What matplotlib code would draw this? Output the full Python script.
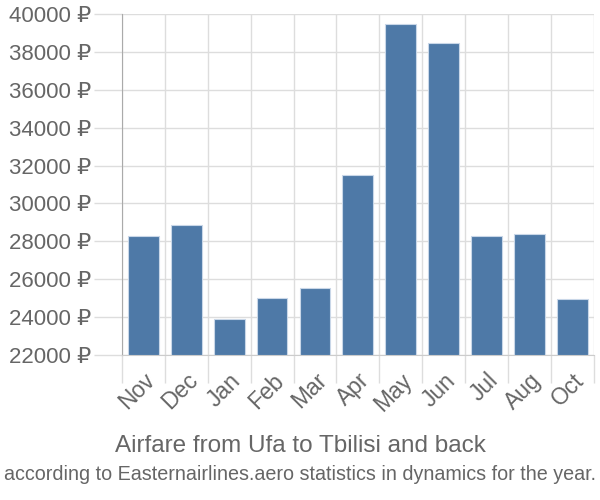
import numpy as np
import matplotlib
matplotlib.use("Agg")
import matplotlib.pyplot as plt
from matplotlib.ticker import FixedLocator

plt.rcParams['font.family'] = ['Liberation Sans', 'DejaVu Sans']

# data
months = ["Nov", "Dec", "Jan", "Feb", "Mar", "Apr", "May", "Jun", "Jul", "Aug", "Oct"]
prices = [28280, 28880, 23880, 25020, 25520, 31480, 39450, 38480, 28280, 28400, 24940]
y_ticks = [22000, 24000, 26000, 28000, 30000, 32000, 34000, 36000, 38000, 40000]

text_col = "#666666"
grid_col = "#dddddd"

fig = plt.figure(figsize=(6, 5), dpi=100)
ax = fig.add_axes([0.203, 0.29, 0.787, 0.682])

x = np.arange(len(months))
ax.bar(x, [p - y_ticks[0] for p in prices], bottom=y_ticks[0], width=0.72,
       color="#4e79a7", edgecolor="#c9d7e8", linewidth=0.8, zorder=3)

ax.set_xlim(-0.5, len(months) - 0.5)
ax.set_ylim(y_ticks[0], y_ticks[-1])

ax.set_yticks(y_ticks)
ax.set_yticklabels([f"{v} ₽" for v in y_ticks], fontsize=16, color=text_col)
ax.tick_params(axis="y", length=20, color=grid_col, width=1, pad=2)

ax.set_xticks(x)
ax.set_xticklabels(months, rotation=45, ha="right", rotation_mode="anchor",
                   fontsize=16.5, color=text_col)
ax.tick_params(axis="x", which="major", length=0, pad=10)
ax.xaxis.set_minor_locator(FixedLocator(np.arange(-0.5, len(months), 1)))
ax.tick_params(axis="x", which="minor", length=20, color=grid_col, width=1)

ax.grid(True, axis="y", color=grid_col, linewidth=1, zorder=0)
ax.grid(True, axis="x", which="minor", color=grid_col, linewidth=1, zorder=0)

for side in ["top", "right"]:
    ax.spines[side].set_visible(False)
ax.spines["left"].set_color("#aaaaaa")
ax.spines["bottom"].set_color("#cccccc")

fig.text(0.5, 0.108, "Airfare from Ufa to Tbilisi and back", ha="center",
         va="center", fontsize=17.5, color=text_col)
fig.text(0.5, 0.052, "according to Easternairlines.aero statistics in dynamics for the year.",
         ha="center", va="center", fontsize=14.2, color=text_col)

fig.savefig("out.png", dpi=100)
